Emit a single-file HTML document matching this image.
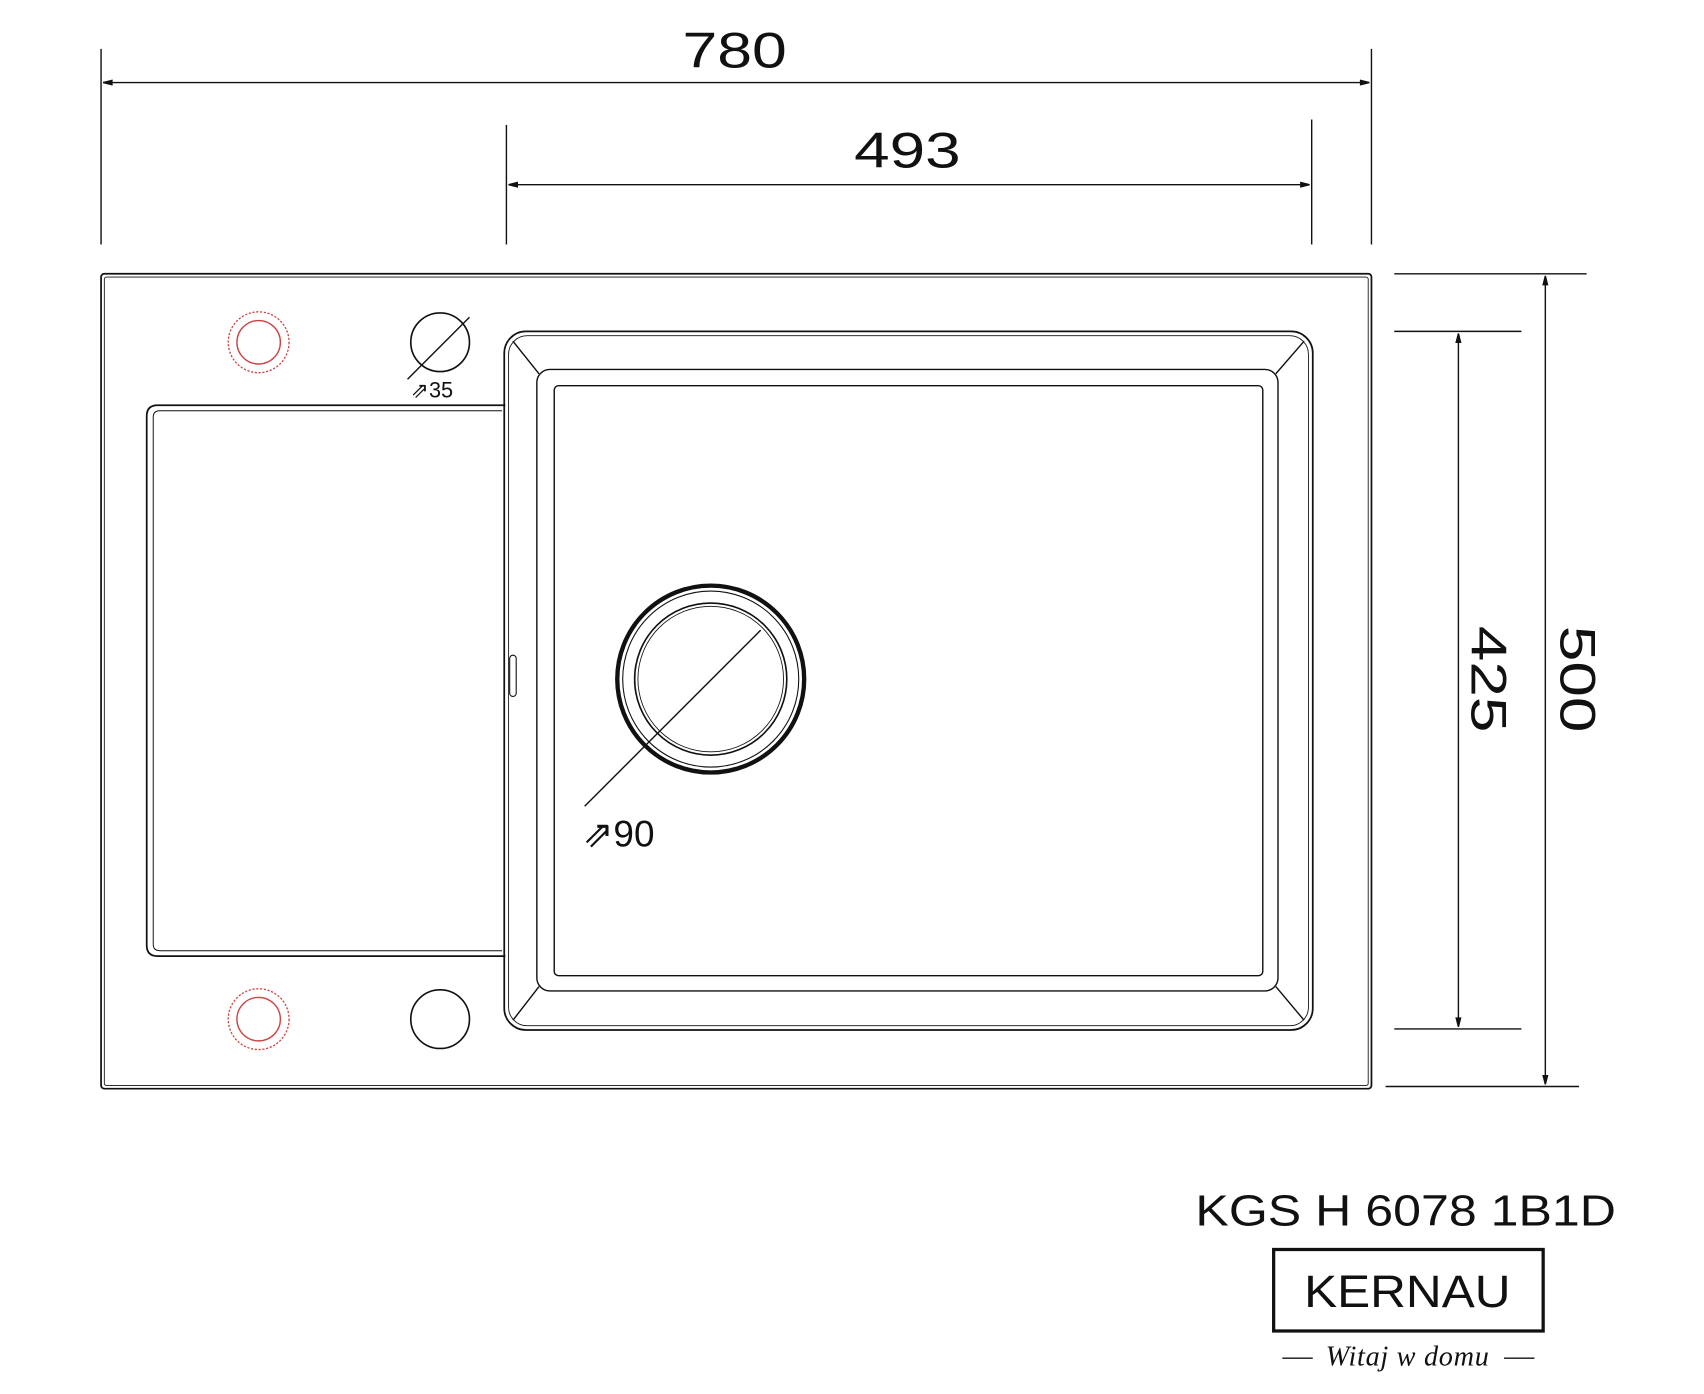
<!DOCTYPE html>
<html><head><meta charset="utf-8"><style>
html,body{margin:0;padding:0;background:#fff;}
svg{display:block;}
text{font-family:"Liberation Sans",sans-serif;fill:#111;}
</style></head><body>
<svg width="1704" height="1394" viewBox="0 0 1568 1283" preserveAspectRatio="none" xmlns="http://www.w3.org/2000/svg">
<g stroke="#111" fill="none" stroke-width="1.3">
<line x1="93" y1="45" x2="93" y2="225"/>
<line x1="1262" y1="45" x2="1262" y2="225"/>
<line x1="95" y1="76" x2="1260" y2="76"/>
<path d="M95 76 l8 -2 v4 z M1260 76 l-8 -2 v4 z" fill="#111"/>
<line x1="466" y1="115" x2="466" y2="225"/>
<line x1="1207" y1="110" x2="1207" y2="225"/>
<line x1="468" y1="170" x2="1205" y2="170"/>
<path d="M468 170 l8 -2 v4 z M1205 170 l-8 -2 v4 z" fill="#111"/>
<line x1="1283" y1="252" x2="1460" y2="252"/>
<line x1="1275" y1="1000" x2="1453" y2="1000"/>
<line x1="1422" y1="254" x2="1422" y2="998"/>
<path d="M1422 254 l-2 8 h4 z M1422 998 l-2 -8 h4 z" fill="#111"/>
<line x1="1283" y1="305" x2="1400" y2="305"/>
<line x1="1283" y1="947" x2="1400" y2="947"/>
<line x1="1342" y1="307" x2="1342" y2="945"/>
<path d="M1342 307 l-2 8 h4 z M1342 945 l-2 -8 h4 z" fill="#111"/>
<rect x="93" y="252" width="1169" height="750" rx="3" stroke-width="1.6"/>
<rect x="96" y="255" width="1163" height="744" rx="2" stroke-width="0.8"/>
<rect x="464" y="305" width="744" height="643" rx="20" stroke-width="1.6"/>
<rect x="468" y="309" width="736" height="635" rx="17" stroke-width="0.8"/>
<rect x="494" y="340" width="682" height="572" rx="12" stroke-width="1.3"/>
<rect x="510" y="355" width="652" height="543" rx="4" stroke-width="1.3"/>
<line x1="472" y1="314" x2="496" y2="344"/>
<line x1="1200" y1="314" x2="1174" y2="344"/>
<line x1="472" y1="939" x2="496" y2="908"/>
<line x1="1200" y1="939" x2="1174" y2="908"/>
<path d="M465 373 L145 373 Q135 373 135 383 L135 870 Q135 880 145 880 L465 880" stroke-width="1.6"/>
<path d="M462 378 L147 378 Q141 378 141 384 L141 869 Q141 875 147 875 L462 875" stroke-width="0.9"/>
<rect x="469" y="603" width="6" height="38" rx="3" stroke-width="1"/>
<ellipse cx="654" cy="625" rx="86" ry="86" stroke-width="4"/>
<ellipse cx="654" cy="625" rx="81" ry="81" stroke-width="1"/>
<ellipse cx="654" cy="625" rx="70" ry="70" stroke-width="1.5"/>
<ellipse cx="654" cy="625" rx="67" ry="67" stroke-width="0.8"/>
<line x1="538" y1="742" x2="700" y2="580"/>
<circle cx="238" cy="315" r="28" stroke="#c44" stroke-dasharray="2 1.5" stroke-width="1.2"/>
<circle cx="238" cy="315" r="20" stroke="#c44" stroke-width="1.3"/>
<circle cx="238" cy="938" r="28" stroke="#c44" stroke-dasharray="2 1.5" stroke-width="1.2"/>
<circle cx="238" cy="938" r="20" stroke="#c44" stroke-width="1.3"/>
<circle cx="405" cy="315" r="27" stroke-width="1.5"/>
<line x1="375" y1="349" x2="432" y2="292"/>
<circle cx="405" cy="938" r="27" stroke-width="1.5"/>
<rect x="1172" y="1150" width="248" height="75" stroke-width="3"/>
<line x1="1180" y1="1250" x2="1208" y2="1250"/>
<line x1="1384" y1="1250" x2="1412" y2="1250"/>
</g>
<text x="628" y="62" font-size="46" textLength="96" lengthAdjust="spacingAndGlyphs">780</text>
<text x="786" y="154" font-size="46" textLength="98" lengthAdjust="spacingAndGlyphs">493</text>
<text transform="translate(1436 576) rotate(90)" font-size="46" textLength="98" lengthAdjust="spacingAndGlyphs">500</text>
<text transform="translate(1354 576) rotate(90)" font-size="46" textLength="98" lengthAdjust="spacingAndGlyphs">425</text>
<text x="378" y="366" font-size="20">⇗35</text>
<text x="536" y="779" font-size="34">⇗90</text>
<text x="1100" y="1128" font-size="40" textLength="387" lengthAdjust="spacingAndGlyphs">KGS H 6078 1B1D</text>
<text x="1200" y="1203" font-size="42" textLength="190" lengthAdjust="spacingAndGlyphs">KERNAU</text>
<text x="1220" y="1257" font-size="26" font-style="italic" textLength="150" style="font-family:'Liberation Serif',serif">Witaj w domu</text>
</svg>
</body></html>
